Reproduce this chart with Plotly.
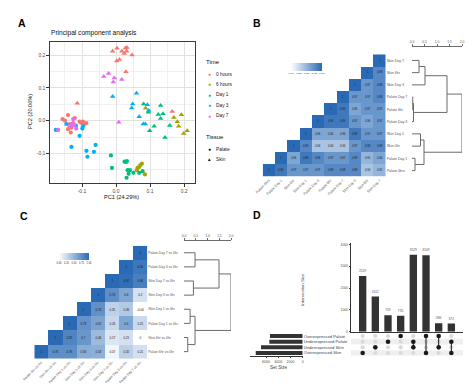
import plotly.graph_objects as go

W, H = 474, 391
def fx(p): return p / W
def fy(p): return 1 - p / H

FONT = "Liberation Sans, Arial, sans-serif"

# ---------------- Panel A: PCA ----------------
time_levels = ["0 hours", "6 hours", "Day 1", "Day 3", "Day 7"]
time_colors = ["#F8766D", "#A3A500", "#00BF7D", "#00B0F6", "#E76BF3"]
tissue_levels = ["Palate", "Skin"]

skin_0h_pc1 = [-0.010, 0.003, 0.017, 0.027, 0.032, 0.031, 0.024, 0.047, 0.010, 0.002, 0.029, 0.165, -0.114]
skin_0h_pc2 = [0.212, 0.221, 0.212, 0.221, 0.223, 0.212, 0.205, 0.200, 0.187, 0.182, 0.149, 0.028, 0.053]
skin_6h_pc1 = [0.087, 0.170, 0.192, 0.180, 0.184, 0.199, 0.209]
skin_6h_pc2 = [0.038, 0.010, 0.018, -0.003, -0.017, -0.039, -0.031]
skin_d1_pc1 = [0.081, 0.095, 0.131, 0.124, 0.138, 0.131, 0.112, 0.099, 0.144, 0.158]
skin_d1_pc2 = [0.051, 0.026, 0.046, 0.019, 0.021, 0.007, -0.017, -0.031, -0.051, -0.015]
skin_d3_pc1 = [-0.010, 0.060, 0.049, 0.046, 0.068, 0.080, 0.086, 0.092, 0.096]
skin_d3_pc2 = [0.074, 0.084, 0.051, 0.039, 0.012, -0.010, -0.010, 0.049, 0.031]
skin_d7_pc1 = [-0.036, -0.022, -0.005, -0.008, 0.017, 0.008]
skin_d7_pc2 = [0.135, 0.144, 0.130, 0.118, 0.126, -0.005]

palate_0h_pc1 = [-0.157, -0.150, -0.141, -0.136, -0.131, -0.141, -0.126, -0.107, -0.102, -0.097, -0.092, -0.087, -0.121, -0.133]
palate_0h_pc2 = [0.005, 0.000, 0.017, -0.010, -0.021, -0.026, -0.007, -0.003, -0.007, -0.003, -0.010, -0.007, 0.008, -0.036]
palate_6h_pc1 = [0.063, 0.068, 0.076, 0.061, 0.085, 0.071]
palate_6h_pc2 = [-0.144, -0.141, -0.131, -0.151, -0.164, -0.136]
palate_d1_pc1 = [-0.015, -0.012, 0.025, 0.030, 0.032, 0.034, 0.041, 0.051, 0.037, 0.031, 0.068, 0.078]
palate_d1_pc2 = [-0.106, -0.144, -0.125, -0.126, -0.123, -0.151, -0.151, -0.159, -0.162, -0.174, -0.159, -0.154]
palate_d3_pc1 = [-0.131, -0.087, -0.084, -0.065, -0.060, -0.107, -0.177, -0.118, -0.099, -0.097, -0.146]
palate_d3_pc2 = [-0.080, -0.092, -0.110, -0.095, -0.074, -0.046, -0.028, -0.015, -0.024, -0.017, -0.010]
palate_d7_pc1 = [-0.170, -0.126, -0.129, -0.123, -0.136, -0.117]
palate_d7_pc2 = [-0.028, 0.005, -0.010, -0.013, -0.017, -0.024]

# ---------------- Panel B: correlation heatmap ----------------
b_labels = ["Palate 0hrs", "Palate Day 1", "Skin 0hr", "Skin Day 1", "Palate Day 3",
            "Palate 6hr", "Palate Day 7", "Skin Day 3", "Skin 6hr", "Skin Day 7"]
b_row0 = [1, 0.99, 0.97, 0.97, 0.97, 0.98, 0.98, 0.98, 0.94, 0.95]
b_row1 = [1, 0.96, 0.99, 0.98, 0.97, 0.97, 0.98, 0.95, 0.96]
b_row2 = [1, 0.98, 0.94, 0.94, 0.94, 0.97, 0.98, 0.98]
b_row3 = [1, 0.96, 0.96, 0.96, 0.99, 0.97, 0.97]
b_row4 = [1, 0.99, 0.99, 0.97, 0.96, 0.97]
b_row5 = [1, 0.99, 0.96, 0.97, 0.97]
b_row6 = [1, 0.97, 0.97, 0.98]
b_row7 = [1, 0.97, 0.98]
b_row8 = [1, 0.98]
b_row9 = [1]
b_rows = [b_row0, b_row1, b_row2, b_row3, b_row4, b_row5, b_row6, b_row7, b_row8, b_row9]
b_scale_ticks = [0.900, 0.925, 0.950, 0.975, 1.000]
b_dendro = [
    ("Skin Day 7", "Skin 6hr", 0.28),
    (0, "Skin Day 3", 0.52),
    ("Palate Day 7", "Palate 6hr", 0.03),
    (2, "Palate Day 3", 0.06),
    (1, 3, 1.40),
    ("Skin Day 1", "Skin 0hr", 0.34),
    ("Palate Day 1", "Palate 0hrs", 0.12),
    (5, 6, 0.48),
    (4, 7, 2.00),
]

# ---------------- Panel C: fold-change correlation heatmap ----------------
c_labels = ["Palate 6hr vs 0hr", "Skin 6hr vs 0hr", "Palate Day 1 vs 0hr", "Skin Day 1 vs 0hr",
            "Skin Day 3 vs 0hr", "Skin Day 7 vs 0hr", "Palate Day 3 vs 0hr", "Palate Day 7 vs 0hr"]
c_row0 = [1, 0.76, 0.76, 0.56, 0.53, 0.07, 0.32, 0.21]
c_row1 = [1, 0.82, 0.7, 0.46, 0.17, 0.21, 0]
c_row2 = [1, 0.73, 0.62, 0.26, 0.6, 0.25]
c_row3 = [1, 0.74, 0.31, 0.36, -0.04]
c_row4 = [1, 0.76, 0.6, 0.2]
c_row5 = [1, 0.97, 0.86]
c_row6 = [1, 0.91]
c_row7 = [1]
c_rows = [c_row0, c_row1, c_row2, c_row3, c_row4, c_row5, c_row6, c_row7]
c_scale_ticks = [0.00, 0.25, 0.50, 0.75, 1.00]
c_dendro = [
    ("Palate Day 7 vs 0hr", "Palate Day 3 vs 0hr", 0.47),
    ("Skin Day 7 vs 0hr", "Skin Day 3 vs 0hr", 0.40),
    (0, 1, 1.49),
    ("Skin Day 1 vs 0hr", "Palate Day 1 vs 0hr", 0.26),
    ("Skin 6hr vs 0hr", "Palate 6hr vs 0hr", 0.16),
    (3, 4, 0.47),
    (2, 5, 2.00),
]
dendro_ticks = [0.0, 0.5, 1.0, 1.5, 2.0]

# ---------------- Panel D: UpSet ----------------
set_names = ["Overexpressed Skin", "Underexpressed Skin", "Underexpressed Palate", "Overexpressed Palate"]
set_sizes = [7700, 6840, 5470, 5360]
inter_sizes = [2559, 1612, 759, 735, 3529, 3509, 386, 372]
inter_members = [
    ["Overexpressed Skin"],
    ["Underexpressed Skin"],
    ["Underexpressed Palate"],
    ["Overexpressed Palate"],
    ["Underexpressed Palate", "Underexpressed Skin"],
    ["Overexpressed Palate", "Overexpressed Skin"],
    ["Overexpressed Palate", "Underexpressed Skin"],
    ["Underexpressed Palate", "Overexpressed Skin"],
]

# =====================================================================
fig = go.Figure()

groups = [
    (palate_0h_pc1, palate_0h_pc2, 0, "circle"), (palate_6h_pc1, palate_6h_pc2, 1, "circle"),
    (palate_d1_pc1, palate_d1_pc2, 2, "circle"), (palate_d3_pc1, palate_d3_pc2, 3, "circle"),
    (palate_d7_pc1, palate_d7_pc2, 4, "circle"),
    (skin_0h_pc1, skin_0h_pc2, 0, "triangle-up"), (skin_6h_pc1, skin_6h_pc2, 1, "triangle-up"),
    (skin_d1_pc1, skin_d1_pc2, 2, "triangle-up"), (skin_d3_pc1, skin_d3_pc2, 3, "triangle-up"),
    (skin_d7_pc1, skin_d7_pc2, 4, "triangle-up"),
]
for xs, ys, ci, sym in groups:
    fig.add_trace(go.Scatter(x=xs, y=ys, mode="markers", xaxis="x", yaxis="y",
                             marker=dict(color=time_colors[ci], symbol=sym,
                                         size=4.2 if sym == "circle" else 5, line=dict(width=0)),
                             showlegend=False, hoverinfo="skip"))

BLUES = [[0, "#FFFFFF"], [1, "#2A6AB5"]]

def fmt(v):
    if v == 1:
        return "1"
    if v == 0:
        return "0"
    s = f"{v:.2f}"
    if s.endswith("0") and len(s) > 3:
        s = s[:-1]
    return s

def tri_matrix(rows):
    n = len(rows)
    z = [[None] * n for _ in range(n)]
    t = [[""] * n for _ in range(n)]
    for r, vals in enumerate(rows):
        for k, v in enumerate(vals):
            z[r][r + k] = v
            t[r][r + k] = fmt(v)
    return z, t

bz, bt = tri_matrix(b_rows)
fig.add_trace(go.Heatmap(z=bz, text=bt, texttemplate="%{text}", textfont=dict(size=2.8, color="#1a1a1a"),
                         x=list(range(10)), y=list(range(10)), xaxis="x2", yaxis="y2",
                         colorscale=BLUES, zmin=0.9, zmax=1.0, hoverinfo="skip",
                         colorbar=dict(orientation="h", x=fx(291), xanchor="left", y=fy(63), yanchor="top",
                                       len=31, lenmode="pixels", thickness=8, thicknessmode="pixels",
                                       xpad=0, ypad=0, outlinewidth=0, ticks="", tickangle=0,
                                       tickvals=b_scale_ticks, ticktext=[f"{v:.3f}" for v in b_scale_ticks],
                                       tickfont=dict(size=2.3, color="#333"))))

cz, ct = tri_matrix(c_rows)
fig.add_trace(go.Heatmap(z=cz, text=ct, texttemplate="%{text}", textfont=dict(size=3.0, color="#1a1a1a"),
                         x=list(range(8)), y=list(range(8)), xaxis="x4", yaxis="y4",
                         colorscale=BLUES, zmin=0.0, zmax=1.0, hoverinfo="skip",
                         colorbar=dict(orientation="h", x=fx(59), xanchor="left", y=fy(253), yanchor="top",
                                       len=30, lenmode="pixels", thickness=7, thicknessmode="pixels",
                                       xpad=0, ypad=0, outlinewidth=0, ticks="", tickangle=0,
                                       tickvals=c_scale_ticks, ticktext=[f"{v:.2f}" for v in c_scale_ticks],
                                       tickfont=dict(size=2.6, color="#333"))))

def dendro_segments(labels, merges):
    leaf_pos = {lab: i for i, lab in enumerate(labels)}
    npos, nh = [], []
    xs, ys = [], []
    def get(c):
        if isinstance(c, str):
            return leaf_pos[c], 0.0
        return npos[c], nh[c]
    for a, b, h in merges:
        ya, ha = get(a)
        yb, hb = get(b)
        xs += [ha, h, h, hb, None]
        ys += [ya, ya, yb, yb, None]
        npos.append((ya + yb) / 2)
        nh.append(h)
    return xs, ys

dx, dy = dendro_segments(b_labels, b_dendro)
fig.add_trace(go.Scatter(x=dx, y=dy, mode="lines", xaxis="x3", yaxis="y3", cliponaxis=False,
                         line=dict(color="#6b6b6b", width=1), showlegend=False, hoverinfo="skip"))
dx, dy = dendro_segments(c_labels, c_dendro)
fig.add_trace(go.Scatter(x=dx, y=dy, mode="lines", xaxis="x5", yaxis="y5", cliponaxis=False,
                         line=dict(color="#6b6b6b", width=1), showlegend=False, hoverinfo="skip"))

# UpSet
cols = list(range(len(inter_sizes)))
fig.add_trace(go.Bar(x=cols, y=inter_sizes, xaxis="x6", yaxis="y6", width=0.58,
                     marker=dict(color="#333333", line=dict(width=0)),
                     text=[str(v) for v in inter_sizes], textposition="outside", cliponaxis=False,
                     textfont=dict(size=3.3, color="#595959"), showlegend=False, hoverinfo="skip"))

gx, gy, kx, ky, lx, ly = [], [], [], [], [], []
for ci, mem in enumerate(inter_members):
    rows_in = [set_names.index(m) for m in mem]
    for ri in range(len(set_names)):
        if ri in rows_in:
            kx.append(ci); ky.append(ri)
        else:
            gx.append(ci); gy.append(ri)
    if len(rows_in) > 1:
        lx += [ci, ci, None]
        ly += [min(rows_in), max(rows_in), None]
fig.add_trace(go.Scatter(x=gx, y=gy, mode="markers", xaxis="x7", yaxis="y7",
                         marker=dict(color="#DADADA", size=4.2), showlegend=False, hoverinfo="skip"))
fig.add_trace(go.Scatter(x=lx, y=ly, mode="lines", xaxis="x7", yaxis="y7",
                         line=dict(color="#1a1a1a", width=1), showlegend=False, hoverinfo="skip"))
fig.add_trace(go.Scatter(x=kx, y=ky, mode="markers", xaxis="x7", yaxis="y7",
                         marker=dict(color="#1a1a1a", size=4.6), showlegend=False, hoverinfo="skip"))

fig.add_trace(go.Bar(x=set_sizes, y=list(range(len(set_names))), orientation="h", width=0.72,
                     xaxis="x8", yaxis="y8", marker=dict(color="#333333", line=dict(width=0)),
                     showlegend=False, hoverinfo="skip"))

# ---------------- axes ----------------
grid_major = "#E2E2E2"
grid_minor = "#F0F0F0"
def pca_axis(domain, rng, anchor):
    return dict(domain=domain, range=rng, anchor=anchor,
                tickmode="array", tickvals=[-0.1, 0.0, 0.1, 0.2], ticktext=["-0.1", "0.0", "0.1", "0.2"],
                minor=dict(tickmode="array", tickvals=[-0.15, -0.05, 0.05, 0.15], showgrid=True,
                           gridcolor=grid_minor, gridwidth=0.5, ticks=""),
                showgrid=True, gridcolor=grid_major, gridwidth=0.7, zeroline=False,
                showline=True, mirror=True, linecolor="#3a3a3a", linewidth=1.3,
                ticks="outside", ticklen=2.5, tickwidth=0.7, tickcolor="#333333",
                tickfont=dict(size=5, color="#4D4D4D"), automargin=False)

pca_x = pca_axis([fx(50), fx(195)], [-0.194, 0.232], "y")
pca_y = pca_axis([fy(183), fy(42)], [-0.19, 0.24], "x")

hm_common = dict(showgrid=False, zeroline=False, showline=False, ticks="", automargin=False)
b_x = dict(domain=[fx(262.7), fx(385.7)], range=[-0.5, 9.5], anchor="y2", tickmode="array",
           tickvals=list(range(10)), ticktext=b_labels, tickangle=-45,
           tickfont=dict(size=3.6, color="#555"), **hm_common)
b_y = dict(domain=[fy(176.7), fy(54.3)], range=[-0.5, 9.5], anchor="x2", side="right", tickmode="array",
           tickvals=list(range(10)), ticktext=b_labels, tickfont=dict(size=3.6, color="#555"), **hm_common)
c_x = dict(domain=[fx(34.3), fx(147.3)], range=[-0.5, 7.5], anchor="y4", tickmode="array",
           tickvals=list(range(8)), ticktext=c_labels, tickangle=-45,
           tickfont=dict(size=3.4, color="#555"), **hm_common)
c_y = dict(domain=[fy(358.7), fy(245.7)], range=[-0.5, 7.5], anchor="x4", side="right", tickmode="array",
           tickvals=list(range(8)), ticktext=c_labels, tickfont=dict(size=3.4, color="#555"), **hm_common)

def dendro_x(d0, d1, pos):
    return dict(domain=[fx(d0), fx(d1)], range=[0, 2], anchor="free", position=fy(pos), side="top",
                showline=True, linecolor="#6b6b6b", linewidth=0.8, ticks="outside", ticklen=2,
                tickwidth=0.7, tickcolor="#6b6b6b", tickmode="array", tickvals=dendro_ticks,
                ticktext=[f"{v:.1f}" for v in dendro_ticks], tickfont=dict(size=3.4, color="#555"),
                showgrid=False, zeroline=False, automargin=False)

b_dx = dendro_x(412, 462, 46)
b_dy = dict(domain=b_y["domain"], range=[-0.5, 9.5], anchor="x3", visible=False)
c_dx = dendro_x(184, 231, 240)
c_dy = dict(domain=c_y["domain"], range=[-0.5, 7.5], anchor="x5", visible=False)

d_bar_x = dict(domain=[fx(351), fx(463)], range=[-0.92, 7.92], anchor="y6", showline=True,
               linecolor="#333", linewidth=0.8, showticklabels=False, ticks="", showgrid=False,
               zeroline=False, automargin=False)
d_bar_y = dict(domain=[fy(331.7), fy(243.4)], range=[0, 4050], anchor="x6", showline=True,
               linecolor="#333", linewidth=0.8, ticks="outside", ticklen=1.5, tickwidth=0.6,
               tickmode="array", tickvals=[0, 1000, 2000, 3000, 4000], tickfont=dict(size=3.3, color="#555"),
               showgrid=False, zeroline=False, automargin=False)
d_mat_x = dict(domain=d_bar_x["domain"], range=[-0.92, 7.92], anchor="y7", visible=False)
d_mat_y = dict(domain=[fy(355.8), fy(333.2)], range=[-0.5, 3.5], anchor="x7", visible=False)
d_set_x = dict(domain=[fx(250), fx(302.7)], range=[8640, 0], anchor="y8", showline=True,
               linecolor="#333", linewidth=0.8, ticks="outside", ticklen=1.5, tickwidth=0.6,
               tickmode="array", tickvals=[0, 2000, 4000, 6000], tickfont=dict(size=3.6, color="#555"),
               showgrid=False, zeroline=False, automargin=False)
d_set_y = dict(domain=d_mat_y["domain"], range=[-0.5, 3.5], anchor="x8", side="right", tickmode="array",
               tickvals=list(range(4)), ticktext=set_names, tickfont=dict(size=4.2, color="#444"),
               showgrid=False, zeroline=False, showline=False, ticks="", automargin=False)

shapes = []
for ri in range(len(set_names)):
    if ri % 2 == 0:
        shapes.append(dict(type="rect", xref="x7 domain", yref="y7", x0=0, x1=1, y0=ri - 0.5, y1=ri + 0.5,
                           fillcolor="#EFEFEF", line=dict(width=0), layer="below"))

ann = []
def txt(x, y, s, size, color="#000", xanchor="left", bold=False, angle=0, yanchor="middle"):
    ann.append(dict(x=fx(x), y=fy(y), xref="paper", yref="paper", text=f"<b>{s}</b>" if bold else s,
                    showarrow=False, xanchor=xanchor, yanchor=yanchor, textangle=angle,
                    font=dict(size=size, color=color, family=FONT)))

txt(16, 23, "A", 10.5, bold=True)
txt(250.5, 23, "B", 10.5, bold=True)
txt(17.5, 216, "C", 10.5, bold=True)
txt(250.5, 215, "D", 10.5, bold=True)
txt(49, 33.5, "Principal component analysis", 6.6, color="#111")
txt(121.7, 196.5, "PC1 (24.29%)", 5.6, color="#111", xanchor="center")
txt(30, 112, "PC2 (20.06%)", 5.6, color="#111", xanchor="center", angle=-90)
txt(204, 62, "Time", 6.0, color="#111")
for i, (lab, col) in enumerate(zip(time_levels, time_colors)):
    yy = 74 + i * 10.4
    txt(209, yy, "●", 5.0, color=col, xanchor="center")
    txt(214, yy, lab, 4.8, color="#222")
txt(204, 137, "Tissue", 6.0, color="#111")
txt(209, 149, "●", 5.0, color="#111", xanchor="center")
txt(214, 149, "Palate", 4.8, color="#222")
txt(209, 160, "▲", 4.6, color="#111", xanchor="center")
txt(214, 160, "Skin", 4.8, color="#222")
txt(302, 290, "Intersection Size", 4.4, color="#444", xanchor="center", angle=-90)
txt(279, 367, "Set Size", 4.6, color="#444", xanchor="center")

fig.update_layout(
    width=W, height=H, margin=dict(l=0, r=0, t=0, b=0),
    paper_bgcolor="white", plot_bgcolor="white",
    font=dict(family=FONT, color="#333"),
    showlegend=False,
    xaxis=pca_x, yaxis=pca_y,
    xaxis2=b_x, yaxis2=b_y, xaxis3=b_dx, yaxis3=b_dy,
    xaxis4=c_x, yaxis4=c_y, xaxis5=c_dx, yaxis5=c_dy,
    xaxis6=d_bar_x, yaxis6=d_bar_y, xaxis7=d_mat_x, yaxis7=d_mat_y,
    xaxis8=d_set_x, yaxis8=d_set_y,
    shapes=shapes, annotations=ann,
)

fig.write_html("out.html", config={"displayModeBar": False},
               post_script="document.body.style.margin='0';document.body.style.padding='0';")
